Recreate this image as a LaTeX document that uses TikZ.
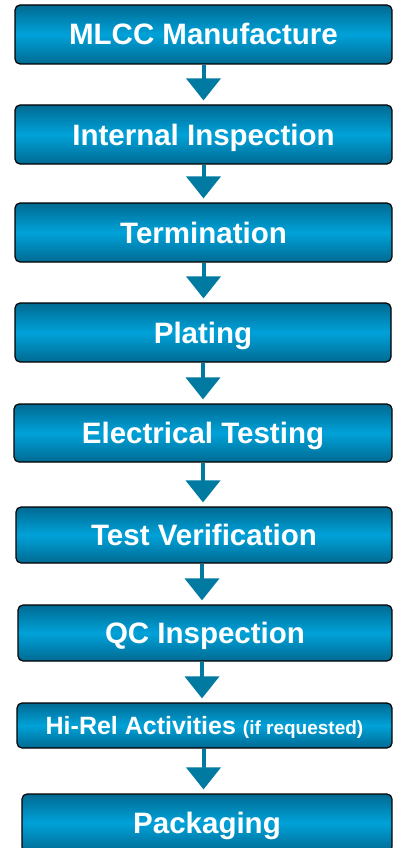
\documentclass[tikz,border=0pt]{standalone}
\usepackage{fontspec}
\setmainfont{Liberation Sans}
\usetikzlibrary{arrows.meta}
\definecolor{boxdark}{RGB}{0,106,146}
\definecolor{boxlight}{RGB}{0,162,217}
\definecolor{flowteal}{RGB}{0,122,160}
\begin{document}
\begin{tikzpicture}[x=1pt,y=-1pt,
    stage/.style={draw=black,line width=1.2pt,rounded corners=5pt,top color=boxdark,bottom color=boxdark,middle color=boxlight,
      text=white,font=\bfseries\fontsize{29.5}{32}\selectfont,text height=21pt,text depth=0pt,inner sep=0pt},
    flow/.style={-{Triangle[width=34pt,length=22pt]},line width=4pt,flowteal,shorten >=4pt}]
    \useasboundingbox(0,0)rectangle(393,848);
    \node[stage,minimum width=377pt,minimum height=59pt](mlcc)at(203.5,34.5){MLCC Manufacture};
    \node[stage,minimum width=377pt,minimum height=59pt](inspect)at(203.5,134.5){Internal Inspection};
    \node[stage,minimum width=377pt,minimum height=59pt](term)at(203.5,232.5){Termination};
    \node[stage,minimum width=376pt,minimum height=59pt](plating)at(203,332.5){Plating};
    \node[stage,minimum width=378pt,minimum height=58pt](etest)at(203,433){Electrical Testing};
    \node[stage,minimum width=376pt,minimum height=56pt](verify)at(204,535){Test Verification};
    \node[stage,minimum width=374pt,minimum height=56pt](qc)at(205,633){QC Inspection};
    \node[stage,minimum width=375pt,minimum height=45pt,font=\bfseries\fontsize{25}{27}\selectfont,text height=18pt](hirel)at(204.5,725.5)
        {Hi-Rel Activities {\fontsize{19}{20}\selectfont(if requested)}};
    \node[stage,minimum width=370pt,minimum height=58pt](pack)at(207,823){Packaging};
    % arrows between the stages
    \draw[flow](mlcc.south)--(mlcc.south|-inspect.north);
    \draw[flow](inspect.south)--(inspect.south|-term.north);
    \draw[flow](term.south)--(term.south|-plating.north);
    \draw[flow](plating.south)--(plating.south|-etest.north);
    \draw[flow](etest.south)--(etest.south|-verify.north);
    \draw[flow]([xshift=-2pt]verify.south)--([xshift=-2pt]verify.south|-qc.north);
    \draw[flow]([xshift=-3pt]qc.south)--([xshift=-3pt]qc.south|-hirel.north);
    \draw[flow]([xshift=-1pt]hirel.south)--([xshift=-1pt]hirel.south|-pack.north);
\end{tikzpicture}
\end{document}
